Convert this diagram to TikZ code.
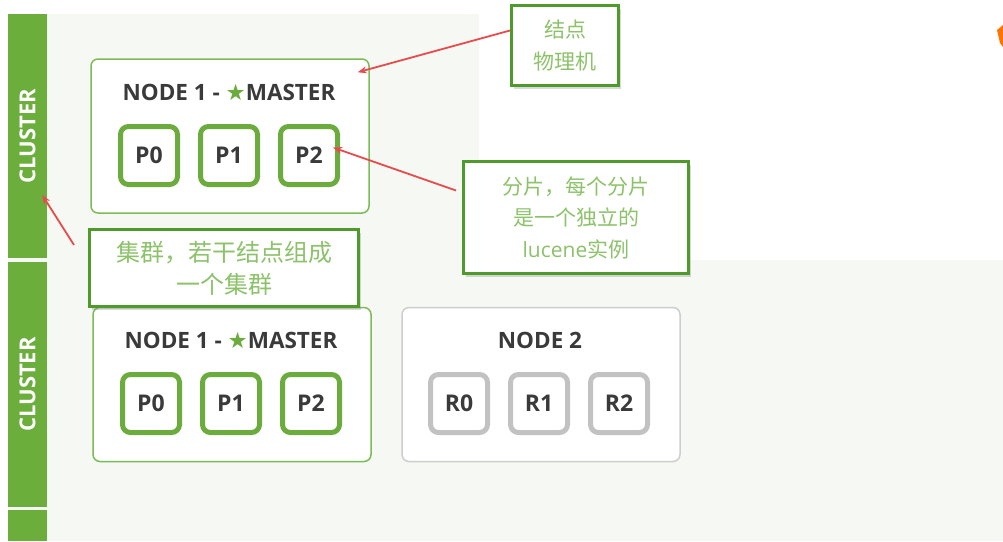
\documentclass[tikz,border=0pt]{standalone}
\usepackage{fontspec}
\setmainfont{Open Sans}
\newfontfamily\cjk{Noto Sans CJK SC}
\newfontfamily\symfont{DejaVu Sans}
\usetikzlibrary{arrows.meta, positioning, shadows}
\definecolor{panelBg}{HTML}{F5F8F3}
\definecolor{barGreen}{HTML}{6BAE3C}
\definecolor{nodeGreen}{HTML}{7DBA58}
\definecolor{shardGreen}{HTML}{6CAC3E}
\definecolor{noteGreen}{HTML}{4E9A2A}
\definecolor{noteText}{HTML}{8CC26A}
\definecolor{titleGray}{HTML}{3A3A3A}
\definecolor{replicaGray}{HTML}{C2C2C2}
\definecolor{arrowRed}{HTML}{E84B4B}
\tikzstyle{cBar} = [fill=barGreen, rotate=90, text=white, font=\bfseries\fontsize{22}{24}\selectfont, minimum height=39pt, inner sep=0pt]
\tikzstyle{nodeBox} = [rectangle, rounded corners=7pt, draw=nodeGreen, line width=1.5pt, fill=white, minimum width=278pt, minimum height=154pt]
\tikzstyle{replicaNodeBox} = [nodeBox, draw=replicaGray!80]
\tikzstyle{titleText} = [text=titleGray, font=\bfseries\fontsize{22.5}{24}\selectfont]
\tikzstyle{shardBox} = [rectangle, rounded corners=8pt, draw=shardGreen, line width=5pt, fill=white, minimum width=57pt, minimum height=58pt, text=titleGray, font=\bfseries\fontsize{23}{24}\selectfont]
\tikzstyle{replicaBox} = [shardBox, draw=replicaGray]
\tikzstyle{noteBox} = [rectangle, draw=noteGreen, line width=3pt, fill=white, drop shadow={shadow xshift=2pt, shadow yshift=-3pt, opacity=0.3}, text=noteText, font=\cjk\fontsize{21}{31.5}\selectfont, align=center]
\tikzstyle{noteArrow} = [draw=arrowRed, line width=1.8pt, -{Stealth[length=9pt, width=7pt]}]
\newcommand{\greenStar}{{\symfont\color{shardGreen}★}}

\begin{document}
\begin{tikzpicture}[x=1pt, y=-1pt, node distance=18pt]
    \useasboundingbox (0,0) rectangle (1003,541);
    % backgrounds
    \fill [panelBg] (8,14) rectangle (479,260);
    \fill [panelBg] (8,260) rectangle (1003,541);
    \fill [orange!90!red] (997,30) -- (1003,25) -- (1003,47) -- (1000,43) -- cycle;

    % top cluster
    \node (barTop) [cBar, minimum width=244pt] at (27.5,136) {CLUSTER};
    \node (topNode) [nodeBox] at (230,136) {};
    \node (topTitle) [titleText] at (229,92) {NODE 1 - \greenStar MASTER};
    \node (topP0) [shardBox] at (149,155.5) {P0};
    \node (topP1) [shardBox, right=of topP0] {P1};
    \node (topP2) [shardBox, right=of topP1] {P2};

    % bottom cluster
    \node (barBottom) [cBar, minimum width=245pt] at (27.5,384.5) {CLUSTER};
    \fill [barGreen] (8,510) rectangle (47,541);
    \node (mainNode) [nodeBox] at (232,384.5) {};
    \node (mainTitle) [titleText] at (231,340) {NODE 1 - \greenStar MASTER};
    \node (mainP0) [shardBox] at (151,403.5) {P0};
    \node (mainP1) [shardBox, right=of mainP0] {P1};
    \node (mainP2) [shardBox, right=of mainP1] {P2};
    \node (replicaNode) [replicaNodeBox] at (541,384.5) {};
    \node (replicaTitle) [titleText] at (540,340) {NODE 2};
    \node (r0) [replicaBox] at (459,403.5) {R0};
    \node (r1) [replicaBox, right=of r0] {R1};
    \node (r2) [replicaBox, right=of r1] {R2};

    % notes
    \node (nodeNote) [noteBox, minimum width=107pt, minimum height=80pt] at (565,45.5) {结点\\物理机};
    \node (shardNote) [noteBox, minimum width=225pt, minimum height=112pt] at (576,217.5) {分片，每个分片\\是一个独立的\\{\rmfamily lucene}实例};
    \node (clusterNote) [noteBox, minimum width=269pt, minimum height=77pt, font=\cjk\fontsize{24}{32}\selectfont] at (224,268) {集群，若干结点组成\\一个集群};

    \draw [noteArrow] ([yshift=15pt]nodeNote.west) -- ([xshift=-12pt, yshift=-14pt]topNode.north east);
    \draw [noteArrow] ([xshift=-6pt, yshift=27pt]shardNote.west) -- ([xshift=-7pt, yshift=8pt]topP2.east);
    \draw [noteArrow] ([xshift=-14pt, yshift=-17pt]clusterNote.north west) -- ([xshift=-5pt, yshift=-59pt]barTop.south);
\end{tikzpicture}
\end{document}
